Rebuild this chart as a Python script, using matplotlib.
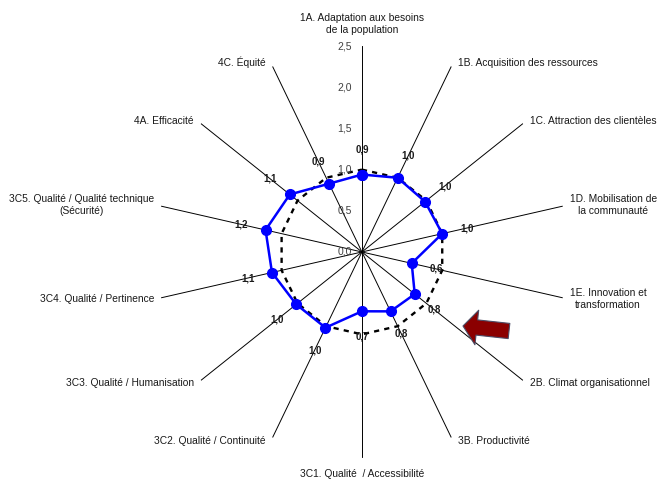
import numpy as np
import matplotlib

matplotlib.use("Agg")
import matplotlib.pyplot as plt  # noqa: E402

plt.rcParams["font.family"] = ["Liberation Sans", "DejaVu Sans"]

# axes clockwise from the top
categories = [
    "1A. Adaptation aux besoins\nde la population",
    "1B. Acquisition des ressources",
    "1C. Attraction des clientèles",
    "1D. Mobilisation de\nla communauté",
    "1E. Innovation et\ntransformation",
    "2B. Climat organisationnel",
    "3B. Productivité",
    "3C1. Qualité  / Accessibilité",
    "3C2. Qualité / Continuité",
    "3C3. Qualité / Humanisation",
    "3C4. Qualité / Pertinence",
    "3C5. Qualité / Qualité technique\n(Sécurité)",
    "4A. Efficacité",
    "4C. Équité",
]
scores = [0.94, 1.0, 0.98, 1.0, 0.62, 0.82, 0.8, 0.72, 1.02, 1.02, 1.12, 1.2, 1.12, 0.92]
reference = [1.0] * len(categories)
radial_ticks = [0.0, 0.5, 1.0, 1.5, 2.0, 2.5]

RMAX = 2.5


def fr(v):
    return f"{v:.1f}".replace(".", ",")


n = len(categories)
theta = np.arange(n) * 2 * np.pi / n
closed = np.append(theta, theta[0])

fig = plt.figure(figsize=(6.59, 4.83), dpi=100)
ax = fig.add_axes([0.2367, 0.0518, 0.625, 0.853], projection="polar")
ax.set_theta_zero_location("N")
ax.set_theta_direction(-1)
ax.set_ylim(0, RMAX)
ax.axis("off")

# spokes
for t in theta:
    ax.plot([t, t], [0, RMAX], color="black", lw=0.7, zorder=1)

# reference polygon at 1.0
ax.plot(closed, np.append(reference, reference[0]), color="black", lw=1.7,
        dashes=(2.2, 2.2), zorder=2)

# scores
ax.plot(closed, np.append(scores, scores[0]), color="#0000FF", lw=1.8,
        marker="o", ms=7, zorder=3)

# value labels, pushed radially outward from each marker
for t, v in zip(theta, scores):
    ax.annotate(fr(v), xy=(t, v), xytext=(18 * np.sin(t), 18 * np.cos(t)),
                textcoords="offset points", ha="center", va="center",
                fontsize=7, fontweight="bold", color="#1a1a1a", zorder=4)

# radial scale along the top spoke
for r in radial_ticks:
    ax.annotate(fr(r), xy=(0, r), xytext=(-7, 0), textcoords="offset points",
                ha="right", va="center", fontsize=7.5, color="#404040")

# category labels just past the end of each spoke
for t, label in zip(theta, categories):
    s, c = np.sin(t), np.cos(t)
    if abs(s) < 0.1:
        ha = "center"
        va = "bottom" if c > 0 else "top"
        off = (0, 8 * c)
    else:
        ha = "left" if s > 0 else "right"
        va = "center"
        off = (5 * np.sign(s), 3 * c)
    ax.annotate(label, xy=(t, RMAX), xytext=off, textcoords="offset points",
                ha=ha, va=va, multialignment="center", fontsize=7.4,
                color="#1a1a1a", annotation_clip=False)

# pointer to the weakest area
ax.annotate("", xy=(463, 483 - 326), xytext=(509, 483 - 331),
            xycoords="figure pixels", textcoords="figure pixels",
            arrowprops=dict(arrowstyle="simple,head_length=1.0,head_width=2.5,tail_width=1.1",
                            mutation_scale=10, fc="#8B0000", ec="#4d4d66", lw=0.8,
                            shrinkA=0, shrinkB=0))

fig.savefig("out.png", dpi=100)
